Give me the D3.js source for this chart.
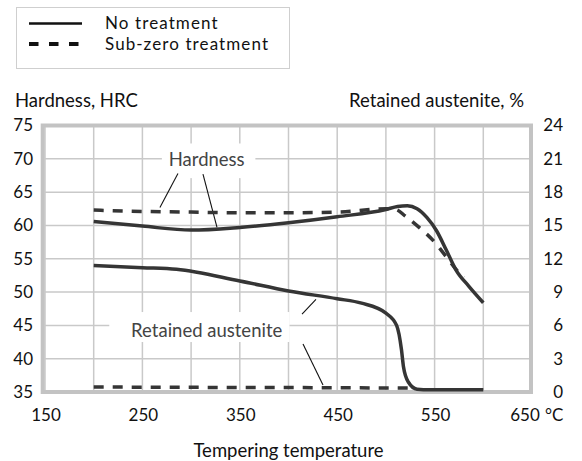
<!DOCTYPE html>
<html>
<head>
<meta charset="utf-8">
<script src="https://cdn.jsdelivr.net/npm/d3@7"></script>
<style>
  body { margin: 0; background: #fff; }
  svg { display: block; font-family: Lato, "Open Sans", sans-serif; }
</style>
</head>
<body>
<div id="chart"></div>
<script>
// tempering temperature, degC
const tempsNone = [200, 250, 300, 350, 400, 450, 500, 512, 522, 532, 542, 552, 562, 572, 585, 600];
const hardnessNone = [60.6, 59.9, 59.3, 59.7, 60.4, 61.3, 62.4, 62.85, 62.95, 62.5, 61.2, 59.2, 56.3, 53.3, 50.9, 48.4];

const tempsSub = [200, 250, 300, 350, 400, 450, 500, 510, 520, 535, 550, 563, 572, 580];
const hardnessSub = [62.3, 62.1, 62.0, 61.9, 61.9, 62.0, 62.5, 62.4, 61.4, 59.6, 57.5, 55.1, 53.4, 52.2];

const tempsAustNone = [200, 250, 285, 350, 400, 450, 475, 500, 511, 516, 518, 523, 532, 545, 600];
const austNone = [11.4, 11.2, 11.05, 10.0, 9.1, 8.4, 8.0, 7.1, 6.0, 3.8, 2.3, 0.9, 0.25, 0.2, 0.2];

const tempsAustSub = [200, 300, 400, 530];
const austSub = [0.45, 0.42, 0.4, 0.35];

const xTicks = [150, 250, 350, 450, 550, 650];
const hardTicks = [35, 40, 45, 50, 55, 60, 65, 70, 75];
const austTicks = [0, 3, 6, 9, 12, 15, 18, 21, 24];
const gridTemps = d3.range(150, 651, 50);

const legendItems = ['No treatment', 'Sub-zero treatment'];

const W = 582, H = 461;
const svg = d3.select('#chart').append('svg').attr('width', W).attr('height', H);

const x = d3.scaleLinear().domain([150, 650]).range([45, 532]);
const yH = d3.scaleLinear().domain([35, 75]).range([392, 125.5]);
const yA = d3.scaleLinear().domain([0, 24]).range([392, 125.5]);

const lineCol = '#353535';
const gridCol = '#c9c9c9';
const wordSize = 18.5;

// grid
svg.append('g').selectAll('line').data(gridTemps).enter().append('line')
  .attr('x1', d => x(d)).attr('x2', d => x(d))
  .attr('y1', yH(75)).attr('y2', yH(35))
  .attr('stroke', gridCol).attr('stroke-width', 1.5);
svg.append('g').selectAll('line').data(hardTicks).enter().append('line')
  .attr('x1', x(150)).attr('x2', x(650))
  .attr('y1', d => yH(d)).attr('y2', d => yH(d))
  .attr('stroke', gridCol).attr('stroke-width', 1.5);

// frame
svg.append('rect')
  .attr('x', x(150) - 2.3).attr('y', yH(75))
  .attr('width', x(650) - x(150) + 1.3).attr('height', yH(35) - yH(75))
  .attr('fill', 'none').attr('stroke', '#c3c3c3').attr('stroke-width', 4);

// annotation label boxes (white, cut the grid)
const hardLabel = { t: 316, h: 69.9, x0: 270, x1: 366, h0: 67.1, h1: 72.3 };
const austLabel = { t: 316, h: 44.3, x0: 216, x1: 401, h0: 42.5, h1: 47.0 };
[hardLabel, austLabel].forEach(b => {
  svg.append('rect')
    .attr('x', x(b.x0)).attr('y', yH(b.h1))
    .attr('width', x(b.x1) - x(b.x0)).attr('height', yH(b.h0) - yH(b.h1))
    .attr('fill', '#fff');
});

// leader lines
const leaders = [
  [[286.5, 67.8], [268, 62.7]],
  [[312.2, 67.7], [326.6, 59.7]],
  [[413.9, 46.7], [428.2, 48.9]],
  [[414.9, 42.2], [435.4, 36.05]]
];
svg.append('g').selectAll('line').data(leaders).enter().append('line')
  .attr('x1', d => x(d[0][0])).attr('y1', d => yH(d[0][1]))
  .attr('x2', d => x(d[1][0])).attr('y2', d => yH(d[1][1]))
  .attr('stroke', '#111').attr('stroke-width', 1.1);

// curves
const lineH = d3.line().x(d => x(d[0])).y(d => yH(d[1])).curve(d3.curveMonotoneX);
const lineA = d3.line().x(d => x(d[0])).y(d => yA(d[1])).curve(d3.curveMonotoneX);

svg.append('path').datum(d3.zip(tempsAustSub, austSub))
  .attr('d', lineA).attr('fill', 'none').attr('stroke', lineCol)
  .attr('stroke-width', 3.5).attr('stroke-dasharray', '10,9');
svg.append('path').datum(d3.zip(tempsAustNone, austNone))
  .attr('d', lineA).attr('fill', 'none').attr('stroke', lineCol).attr('stroke-width', 3.5);
svg.append('path').datum(d3.zip(tempsSub, hardnessSub))
  .attr('d', lineH).attr('fill', 'none').attr('stroke', lineCol)
  .attr('stroke-width', 3.5).attr('stroke-dasharray', '10,9');
svg.append('path').datum(d3.zip(tempsNone, hardnessNone))
  .attr('d', lineH).attr('fill', 'none').attr('stroke', lineCol).attr('stroke-width', 3.5);

// annotation texts
svg.append('text').attr('x', x(hardLabel.t)).attr('y', yH(hardLabel.h))
  .attr('dy', '0.35em').attr('text-anchor', 'middle')
  .attr('font-size', wordSize).attr('fill', '#444').text('Hardness');
svg.append('text').attr('x', x(austLabel.t)).attr('y', yH(austLabel.h))
  .attr('dy', '0.35em').attr('text-anchor', 'middle')
  .attr('font-size', wordSize).attr('fill', '#444').text('Retained austenite');

// tick labels
svg.append('g').selectAll('text').data(hardTicks).enter().append('text')
  .attr('x', 33).attr('y', d => yH(d)).attr('dy', '0.35em')
  .attr('text-anchor', 'end').attr('font-size', 17).attr('fill', '#111')
  .text(d => d);
svg.append('g').selectAll('text').data(austTicks).enter().append('text')
  .attr('x', 563).attr('y', d => yA(d)).attr('dy', '0.35em')
  .attr('text-anchor', 'end').attr('font-size', 17).attr('fill', '#111')
  .text(d => d);
svg.append('g').selectAll('text').data(xTicks).enter().append('text')
  .attr('x', d => x(d) + (d === 650 ? -7 : 1)).attr('y', 421)
  .attr('text-anchor', 'middle').attr('font-size', 17).attr('fill', '#111')
  .text(d => d);
svg.append('text').attr('x', x(650) + 13).attr('y', 421)
  .attr('font-size', 17).attr('fill', '#111').text('°C');

// axis titles
svg.append('text').attr('x', 15).attr('y', 107)
  .attr('font-size', wordSize).attr('fill', '#111').text('Hardness, HRC');
svg.append('text').attr('x', 524).attr('y', 107).attr('text-anchor', 'end')
  .attr('font-size', wordSize).attr('fill', '#111').text('Retained austenite, %');
svg.append('text').attr('x', (x(150) + x(650)) / 2).attr('y', 457)
  .attr('text-anchor', 'middle').attr('font-size', wordSize).attr('fill', '#111')
  .text('Tempering temperature');

// legend
const lg = svg.append('g');
lg.append('rect').attr('x', 16.5).attr('y', 7.5).attr('width', 273).attr('height', 61)
  .attr('fill', '#fff').attr('stroke', '#cfcfcf');
legendItems.forEach((name, i) => {
  const yy = 23.5 + i * 20.5;
  lg.append('line').attr('x1', 29).attr('x2', 82).attr('y1', yy).attr('y2', yy)
    .attr('stroke', '#111').attr('stroke-width', i ? 4 : 2.5)
    .attr('stroke-dasharray', i ? '9.5,10.5' : null);
  lg.append('text').attr('x', 105).attr('y', yy).attr('dy', '0.35em')
    .attr('font-size', 17).attr('letter-spacing', 1.1).attr('fill', '#111').text(name);
});
</script>
</body>
</html>
